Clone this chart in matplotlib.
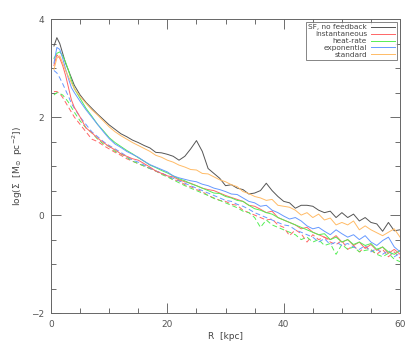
#!/usr/bin/env python3
"""
Surface density profiles log(Sigma) vs R for feedback runs
"""
import numpy as np
import matplotlib
matplotlib.use('Agg')
import matplotlib.pyplot as plt
from matplotlib.ticker import MultipleLocator

# radius grid [kpc]
R = [0.5, 1, 1.5, 2, 2.5, 3, 3.5, 4] + list(range(5, 61))

# solid lines
nofb = [3.45, 3.62, 3.5, 3.3, 3.1, 2.95, 2.8, 2.65,
        2.45, 2.3, 2.18, 2.06, 1.95, 1.84, 1.75, 1.66, 1.6, 1.53,
        1.48, 1.42, 1.37, 1.28, 1.27, 1.24, 1.2, 1.12, 1.2, 1.35,
        1.52, 1.3, 0.95, 0.85, 0.75, 0.6, 0.62, 0.55, 0.52, 0.43,
        0.45, 0.5, 0.65, 0.5, 0.38, 0.28, 0.25, 0.14, 0.2, 0.2,
        0.18, 0.1, 0.05, 0.08, -0.05, 0.05, -0.05, 0.02, -0.12, -0.05,
        -0.15, -0.18, -0.33, -0.15, -0.32, -0.3]
standard = [2.97, 3.2, 3.25, 3.1, 2.95, 2.82, 2.7, 2.58,
            2.42, 2.28, 2.15, 2.04, 1.92, 1.8, 1.7, 1.62, 1.55, 1.48,
            1.42, 1.36, 1.3, 1.22, 1.18, 1.12, 1.08, 1.02, 0.98, 0.93,
            0.92, 0.85, 0.84, 0.78, 0.72, 0.68, 0.62, 0.58, 0.48, 0.44,
            0.38, 0.35, 0.3, 0.32, 0.2, 0.18, 0.16, 0.1, 0.0, 0.05,
            -0.05, 0.02, -0.1, -0.06, -0.2, -0.15, -0.2, -0.12, -0.3, -0.22,
            -0.3, -0.36, -0.42, -0.35, -0.28, -0.45]
expo = [3.1, 3.42, 3.38, 3.2, 2.98, 2.78, 2.6, 2.5,
        2.32, 2.15, 2.0, 1.85, 1.7, 1.56, 1.45, 1.38, 1.3, 1.24,
        1.18, 1.1, 1.03, 0.98, 0.93, 0.88, 0.8, 0.76, 0.73, 0.7,
        0.68, 0.63, 0.6, 0.55, 0.52, 0.48, 0.43, 0.42, 0.35, 0.28,
        0.25, 0.18, 0.2, 0.1, 0.05, -0.02, -0.08, -0.05, -0.12, -0.22,
        -0.28, -0.25, -0.33, -0.4, -0.3, -0.38, -0.45, -0.4, -0.5, -0.42,
        -0.55, -0.62, -0.52, -0.45, -0.65, -0.75]
heat = [3.2, 3.3, 3.33, 3.25, 3.12, 2.95, 2.75, 2.58,
        2.38, 2.18, 2.02, 1.85, 1.72, 1.58, 1.48, 1.4, 1.32, 1.25,
        1.17, 1.1, 1.02, 0.97, 0.91, 0.86, 0.8, 0.74, 0.7, 0.64,
        0.6, 0.55, 0.5, 0.45, 0.44, 0.38, 0.35, 0.3, 0.28, 0.2,
        0.13, 0.1, 0.05, 0.02, -0.05, -0.1, -0.15, -0.2, -0.25, -0.3,
        -0.35, -0.4, -0.38, -0.5, -0.45, -0.55, -0.5, -0.6, -0.55, -0.62,
        -0.58, -0.7, -0.65, -0.75, -0.8, -0.72]
inst = [3.05, 3.27, 3.2, 3.05, 2.85, 2.6, 2.35, 2.2,
        2.0, 1.78, 1.68, 1.57, 1.48, 1.4, 1.33, 1.25, 1.2, 1.15,
        1.12, 1.05, 0.98, 0.9, 0.85, 0.8, 0.78, 0.72, 0.68, 0.65,
        0.6, 0.55, 0.52, 0.5, 0.45, 0.4, 0.36, 0.32, 0.28, 0.2,
        0.18, 0.12, 0.05, 0.08, -0.05, -0.1, -0.15, -0.2, -0.28, -0.25,
        -0.35, -0.4, -0.45, -0.5, -0.42, -0.55, -0.5, -0.62, -0.55, -0.68,
        -0.6, -0.72, -0.65, -0.78, -0.7, -0.8]

# dashed lines
inst_d = [2.52, 2.52, 2.48, 2.4, 2.3, 2.2, 2.1, 2.0,
          1.85, 1.7, 1.55, 1.5, 1.42, 1.35, 1.28, 1.22, 1.15, 1.1,
          1.05, 1.0, 0.95, 0.9, 0.85, 0.8, 0.72, 0.7, 0.62, 0.58,
          0.52, 0.48, 0.4, 0.35, 0.3, 0.28, 0.22, 0.2, 0.1, 0.05,
          0.0, -0.05, -0.1, -0.08, -0.2, -0.25, -0.42, -0.3, -0.38, -0.55,
          -0.4, -0.5, -0.45, -0.55, -0.6, -0.52, -0.7, -0.62, -0.75, -0.65,
          -0.72, -0.8, -0.7, -0.85, -0.75, -0.88]
heat_d = [2.45, 2.5, 2.48, 2.45, 2.38, 2.3, 2.2, 2.1,
          1.92, 1.78, 1.68, 1.55, 1.45, 1.4, 1.3, 1.25, 1.18, 1.1,
          1.05, 1.0, 0.95, 0.9, 0.83, 0.78, 0.72, 0.66, 0.6, 0.55,
          0.5, 0.45, 0.4, 0.34, 0.3, 0.25, 0.2, 0.15, 0.08, 0.05,
          -0.05, -0.25, -0.1, -0.2, -0.25, -0.3, -0.35, -0.4, -0.5, -0.45,
          -0.55, -0.5, -0.62, -0.58, -0.8, -0.6, -0.7, -0.65, -0.75, -0.72,
          -0.7, -0.8, -0.85, -0.78, -0.9, -0.95]
expo_d = [2.95, 2.9, 2.8, 2.68, 2.55, 2.42, 2.28, 2.18,
          2.0, 1.85, 1.7, 1.6, 1.5, 1.42, 1.35, 1.28, 1.2, 1.12,
          1.08, 1.02, 0.96, 0.9, 0.86, 0.8, 0.75, 0.7, 0.65, 0.6,
          0.55, 0.5, 0.45, 0.4, 0.35, 0.3, 0.28, 0.22, 0.18, 0.12,
          0.05, 0.0, -0.05, -0.1, -0.15, -0.2, -0.22, -0.3, -0.35, -0.4,
          -0.45, -0.55, -0.48, -0.6, -0.55, -0.62, -0.58, -0.65, -0.7, -0.62,
          -0.75, -0.68, -0.8, -0.72, -0.85, -0.78]

labels = ['SF, no feedback', 'instantaneous', 'heat-rate', 'exponential', 'standard']

fig = plt.figure(figsize=(4.15, 3.46), dpi=100)
ax = fig.add_axes([0.123, 0.095, 0.841, 0.85])

c_black = '#555555'
c_red = '#ff6666'
c_green = '#55ee55'
c_blue = '#6699ff'
c_orange = '#ffbb66'
lw = 0.7

ax.plot(R, inst_d, color=c_red, lw=lw, ls=(0, (5, 3)))
ax.plot(R, heat_d, color=c_green, lw=lw, ls=(0, (5, 3)))
ax.plot(R, expo_d, color=c_blue, lw=lw, ls=(0, (5, 3)))

ax.plot(R, nofb, color=c_black, lw=lw, label=labels[0])
ax.plot(R, inst, color=c_red, lw=lw, label=labels[1])
ax.plot(R, heat, color=c_green, lw=lw, label=labels[2])
ax.plot(R, expo, color=c_blue, lw=lw, label=labels[3])
ax.plot(R, standard, color=c_orange, lw=lw, label=labels[4])

ax.set_xlim(0, 60)
ax.set_ylim(-2, 4)
ax.xaxis.set_major_locator(MultipleLocator(20))
ax.xaxis.set_minor_locator(MultipleLocator(5))
ax.yaxis.set_major_locator(MultipleLocator(2))
ax.yaxis.set_minor_locator(MultipleLocator(0.5))
ax.tick_params(which='both', direction='in', top=True, right=True,
               colors='#555555', labelsize=6.5, pad=5)
ax.tick_params(which='major', length=7, width=0.6)
ax.tick_params(which='minor', length=3.5, width=0.6)
for sp in ax.spines.values():
    sp.set_color('#666666')
    sp.set_linewidth(0.7)

ax.set_xlabel('R  [kpc]', fontsize=6.5, color='#444444', labelpad=2)
ax.set_ylabel(r'log($\Sigma$  [M$_{\odot}$  pc$^{-2}$])', fontsize=6.5,
              color='#444444', labelpad=4)

leg = ax.legend(loc='upper right', fontsize=5.3, markerfirst=False, frameon=True,
                fancybox=False, handlelength=3.2, handletextpad=0.6,
                borderpad=0.35, labelspacing=0.1, borderaxespad=0.35)
leg.get_frame().set_edgecolor('#666666')
leg.get_frame().set_linewidth(0.7)
for t in leg.get_texts():
    t.set_color('#444444')
    t.set_ha('right')

fig.savefig('out.png', dpi=100)
